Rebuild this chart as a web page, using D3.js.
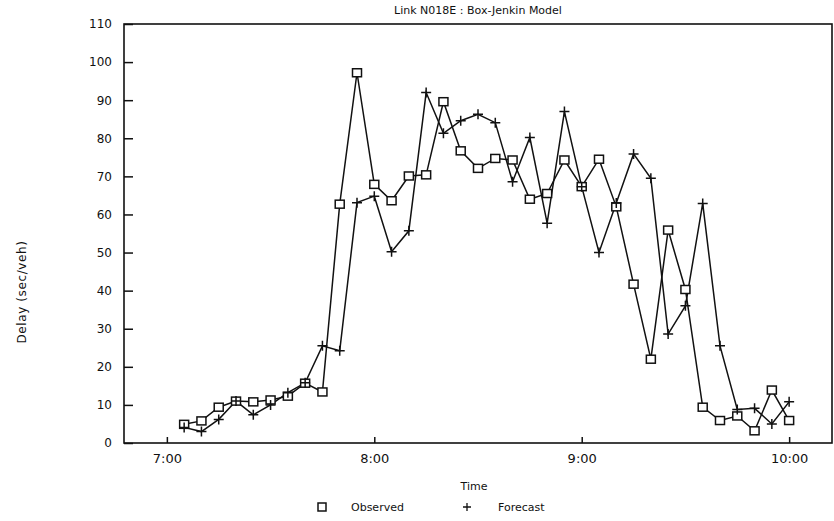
<!DOCTYPE html>
<html>
<head>
<meta charset="utf-8">
<script src="https://cdn.jsdelivr.net/npm/d3@7"></script>
<style>
  body { margin: 0; background: #fff; }
  text { font-family: "DejaVu Sans", sans-serif; fill: #111; }
</style>
</head>
<body>
<div id="chart"></div>
<script>
// ---------------------------------- DATA ---------------------------------- //

// minutes after 7:00, every 5 minutes from 7:05 to 10:00
let minutes = [5, 10, 15, 20, 25, 30, 35, 40, 45, 50, 55, 60, 65, 70, 75, 80, 85, 90,
  95, 100, 105, 110, 115, 120, 125, 130, 135, 140, 145, 150, 155, 160, 165, 170, 175, 180];

let observed = [4.9, 5.8, 9.4, 11.0, 10.8, 11.3, 12.3, 15.7, 13.4, 62.7, 97.2, 67.9,
  63.6, 70.1, 70.4, 89.6, 76.7, 72.1, 74.7, 74.3, 64.0, 65.5, 74.3, 67.3,
  74.5, 62.0, 41.7, 22.0, 55.9, 40.3, 9.4, 5.9, 7.1, 3.2, 13.9, 5.9];

let forecast = [4.1, 3.0, 6.2, 11.0, 7.4, 10.0, 13.2, 15.8, 25.5, 24.2, 63.1, 64.8,
  50.2, 55.7, 92.0, 81.3, 84.6, 86.3, 84.1, 68.6, 80.2, 57.7, 87.0, 67.3,
  50.0, 63.0, 75.9, 69.5, 28.6, 36.0, 62.9, 25.5, 8.8, 9.1, 5.0, 10.8];

let x_ticks = [0, 60, 120, 180];
let x_tick_labels = ['7:00', '8:00', '9:00', '10:00'];
let y_ticks = [0, 10, 20, 30, 40, 50, 60, 70, 80, 90, 100, 110];

// ---------------------------------- SETTINGS ---------------------------------- //

let img_width = 834;
let img_height = 521;
let plot_left = 124;
let plot_right = 832;
let plot_top = 24;
let plot_bottom = 443;
let ink = '#111';

let x = d3.scaleLinear().domain([-12.4, 192.4]).range([plot_left, plot_right]);
let y = d3.scaleLinear().domain([0, 110]).range([plot_bottom, plot_top]);

let svg = d3.select('#chart').append('svg')
  .attr('width', img_width)
  .attr('height', img_height);

// ---------------------------------- AXES ---------------------------------- //

let y_axis = svg.append('g')
  .attr('transform', `translate(${plot_left},0)`)
  .call(d3.axisLeft(y).tickValues(y_ticks).tickSize(-9).tickPadding(12));

let x_axis = svg.append('g')
  .attr('transform', `translate(0,${plot_bottom})`)
  .call(d3.axisBottom(x).tickValues(x_ticks).tickSize(-6).tickPadding(11)
    .tickFormat((d, i) => x_tick_labels[i]));

[y_axis, x_axis].forEach(function(a) {
  a.select('.domain').remove();
  a.selectAll('line').attr('stroke', ink).attr('stroke-width', 1.5);
  a.selectAll('text').style('font-size', '12px').attr('fill', ink);
});
x_axis.selectAll('text').style('font-size', '13px');

svg.append('rect')
  .attr('x', plot_left)
  .attr('y', plot_top)
  .attr('width', plot_right - plot_left)
  .attr('height', plot_bottom - plot_top)
  .attr('fill', 'none')
  .attr('stroke', ink)
  .attr('stroke-width', 1.6);

// ---------------------------------- LINES ---------------------------------- //

let line = d3.line()
  .x((d, i) => x(minutes[i]))
  .y(d => y(d));

[observed, forecast].forEach(function(series) {
  svg.append('path')
    .datum(series)
    .attr('d', line)
    .attr('fill', 'none')
    .attr('stroke', ink)
    .attr('stroke-width', 1.5);
});

svg.append('g').selectAll('rect')
  .data(observed)
  .enter()
  .append('rect')
  .attr('x', (d, i) => x(minutes[i]) - 4.5)
  .attr('y', d => y(d) - 4)
  .attr('width', 9)
  .attr('height', 8)
  .attr('fill', '#fff')
  .attr('stroke', ink)
  .attr('stroke-width', 1.5);

svg.append('g').selectAll('path')
  .data(forecast)
  .enter()
  .append('path')
  .attr('d', 'M-5,0H5M0,-5V5')
  .attr('transform', (d, i) => `translate(${x(minutes[i])},${y(d)})`)
  .attr('stroke', ink)
  .attr('stroke-width', 1.5);

// ---------------------------------- TEXT ---------------------------------- //

svg.append('text')
  .attr('x', 478)
  .attr('y', 14)
  .attr('text-anchor', 'middle')
  .style('font-size', '11px')
  .text('Link N018E : Box-Jenkin Model');

svg.append('text')
  .attr('transform', 'translate(26,292) rotate(-90)')
  .attr('text-anchor', 'middle')
  .style('font-size', '12px')
  .style('letter-spacing', '0.6px')
  .text('Delay (sec/veh)');

svg.append('text')
  .attr('x', 474)
  .attr('y', 490)
  .attr('text-anchor', 'middle')
  .style('font-size', '11px')
  .text('Time');

// ---------------------------------- LEGEND ---------------------------------- //

let legend = svg.append('g').attr('transform', 'translate(0,507)');
legend.append('rect')
  .attr('x', 318).attr('y', -4).attr('width', 8).attr('height', 8)
  .attr('fill', 'none').attr('stroke', ink).attr('stroke-width', 1.5);
legend.append('text').attr('x', 351).attr('y', 4).style('font-size', '11px').text('Observed');
legend.append('path')
  .attr('d', 'M-4,0H4M0,-4V4')
  .attr('transform', 'translate(467,0)')
  .attr('stroke', ink).attr('stroke-width', 1.3);
legend.append('text').attr('x', 498).attr('y', 4).style('font-size', '11px').text('Forecast');
</script>
</body>
</html>
